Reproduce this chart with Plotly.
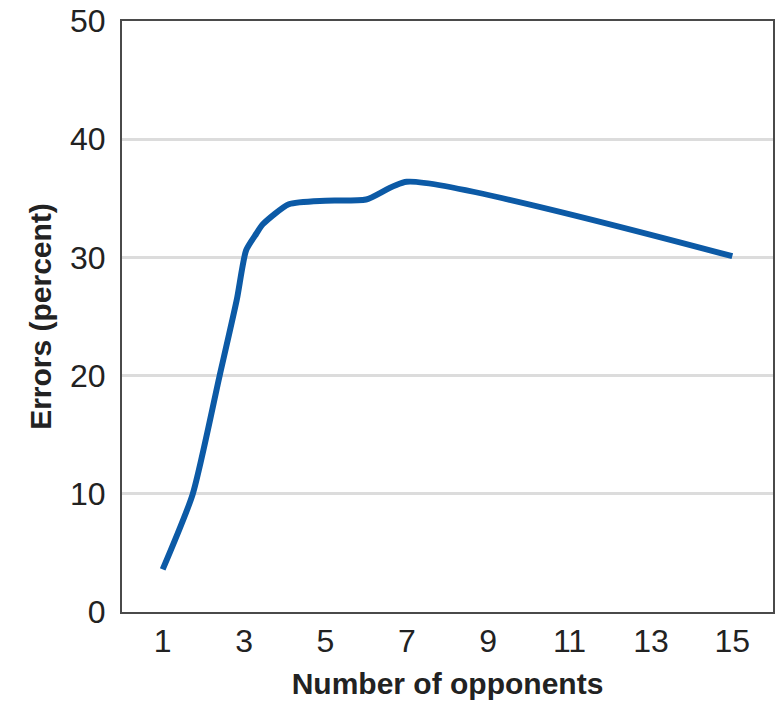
import plotly.graph_objects as go

# Data
opponents = [1, 1.74, 2.4, 2.82, 3.05, 3.3, 3.46, 4.1, 5, 6, 7, 15]
errors = [3.6, 10.0, 20.0, 26.4, 30.6, 32.0, 32.8, 34.5, 34.8, 34.9, 36.4, 30.1]
x_ticks = [1, 3, 5, 7, 9, 11, 13, 15]
y_ticks = [0, 10, 20, 30, 40, 50]

fig = go.Figure()
fig.add_trace(go.Scatter(
    x=opponents, y=errors, mode="lines",
    line=dict(color="#0c5aa6", width=6, shape="spline", smoothing=0.6),
    showlegend=False, hoverinfo="skip",
))

tick_font = dict(family="Liberation Sans, Arial, sans-serif", size=32, color="#222")
title_font = dict(family="Liberation Sans, Arial, sans-serif", size=30, color="#222")

fig.update_layout(
    width=776, height=705,
    margin=dict(l=122, r=3, t=21, b=93),
    paper_bgcolor="white", plot_bgcolor="white",
    xaxis=dict(
        range=[0, 16], tickvals=x_ticks, ticktext=[str(v) for v in x_ticks],
        showgrid=False, zeroline=False, ticks="", automargin=False,
        showline=True, linecolor="#4a4a4a", linewidth=2, mirror=True,
        tickfont=tick_font, ticklabelstandoff=0,
        title=dict(text="<b>Number of opponents</b>", font=title_font, standoff=15),
    ),
    yaxis=dict(
        range=[0, 50], tickvals=y_ticks, ticktext=[str(v) for v in y_ticks],
        showgrid=True, gridcolor="#dcdcdc", gridwidth=3, zeroline=False, ticks="",
        automargin=False,
        showline=True, linecolor="#4a4a4a", linewidth=2, mirror=True,
        tickfont=tick_font, ticklabelstandoff=8,
        title=dict(text="<b>Errors (percent)</b>", font=title_font, standoff=10),
    ),
)

fig.write_html(
    "out.html",
    config={"displayModeBar": False},
    post_script="document.body.style.margin='0';document.body.style.padding='0';",
)
